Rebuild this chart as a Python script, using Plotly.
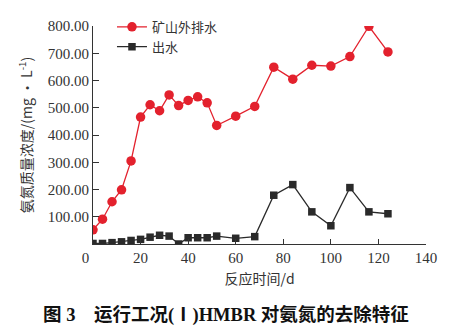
import plotly.graph_objects as go

days = [0, 4, 8, 12, 16, 20, 24, 28, 32, 36, 40, 44, 48, 52,
        60, 68, 76, 84, 92, 100, 108, 116, 124]
mine_water = [52, 91, 155, 199, 305, 466, 511, 489, 547, 508, 527, 540, 518, 435,
              469, 505, 649, 605, 656, 653, 688, 799, 705]
effluent = [2, 2, 5, 8, 13, 17, 25, 32, 29, 0, 23, 23, 23, 29,
            21, 27, 179, 218, 118, 67, 207, 118, 111]

x_ticks = [0, 20, 40, 60, 80, 100, 120, 140]
x_tick_text = ["0\u00a0\u00a0\u00a0\u00a0", "20", "40", "60", "80", "100", "120", "140"]
y_ticks = [100, 200, 300, 400, 500, 600, 700, 800]
y_tick_text = ["100.00", "200.00", "300.00", "400.00", "500.00", "600.00", "700.00", "800.00"]

series_names = ["矿山外排水", "出水"]
x_title = "反应时间/d"
y_title = "氨氮质量浓度/(mg · L<sup>-1</sup>)"
caption = "图 3\u00a0\u00a0\u00a0\u00a0运行工况(Ⅰ)HMBR 对氨氮的去除特征"

FONT = "'Liberation Serif', 'Times New Roman', 'Noto Sans CJK SC', serif"
RED = "#e3212d"
BLACK = "#2a2a2a"
TXT = "#333333"

fig = go.Figure()
fig.add_trace(go.Scatter(
    x=days, y=mine_water, name=series_names[0], mode="lines+markers",
    line=dict(color=RED, width=1.3),
    marker=dict(symbol="circle", size=9.5, color=RED),
))
fig.add_trace(go.Scatter(
    x=days, y=effluent, name=series_names[1], mode="lines+markers",
    line=dict(color=BLACK, width=1.3),
    marker=dict(symbol="square", size=7.5, color=BLACK),
))

fig.update_layout(
    width=449, height=328,
    margin=dict(l=93, r=23, t=12, b=84),
    paper_bgcolor="white", plot_bgcolor="white",
    font=dict(family=FONT, size=15, color=TXT),
    showlegend=True,
    legend=dict(x=0.057, y=1.065, xanchor="left", yanchor="top",
                bgcolor="rgba(0,0,0,0)", font=dict(size=13, family="'Noto Sans CJK SC'", color=TXT),
                tracegroupgap=0, itemwidth=30),
    xaxis=dict(range=[0, 140], tickvals=x_ticks, ticktext=x_tick_text,
               showgrid=False, zeroline=False, showline=True, linecolor=TXT, linewidth=1,
               ticks="inside", ticklen=5, tickcolor=TXT,
               title=dict(text=x_title, font=dict(size=14, family="'Noto Sans CJK SC'", color=TXT), standoff=9),
               tickfont=dict(size=15)),
    yaxis=dict(range=[0, 800], tickvals=y_ticks, ticktext=y_tick_text,
               showgrid=False, zeroline=False, showline=True, linecolor=TXT, linewidth=1,
               ticks="inside", ticklen=6, tickcolor=TXT,
               title=dict(text=y_title, font=dict(size=14, family="'Noto Sans CJK SC', 'Liberation Serif'", color=TXT), standoff=11),
               tickfont=dict(size=15)),
)

fig.add_annotation(
    text=caption, xref="paper", yref="paper", x=0.40, y=-0.325,
    xanchor="center", yanchor="middle", showarrow=False,
    font=dict(size=18.5, family="'Liberation Serif', 'Noto Sans CJK SC'", color="#111111", weight="bold"),
)

fig.write_html("out.html")
